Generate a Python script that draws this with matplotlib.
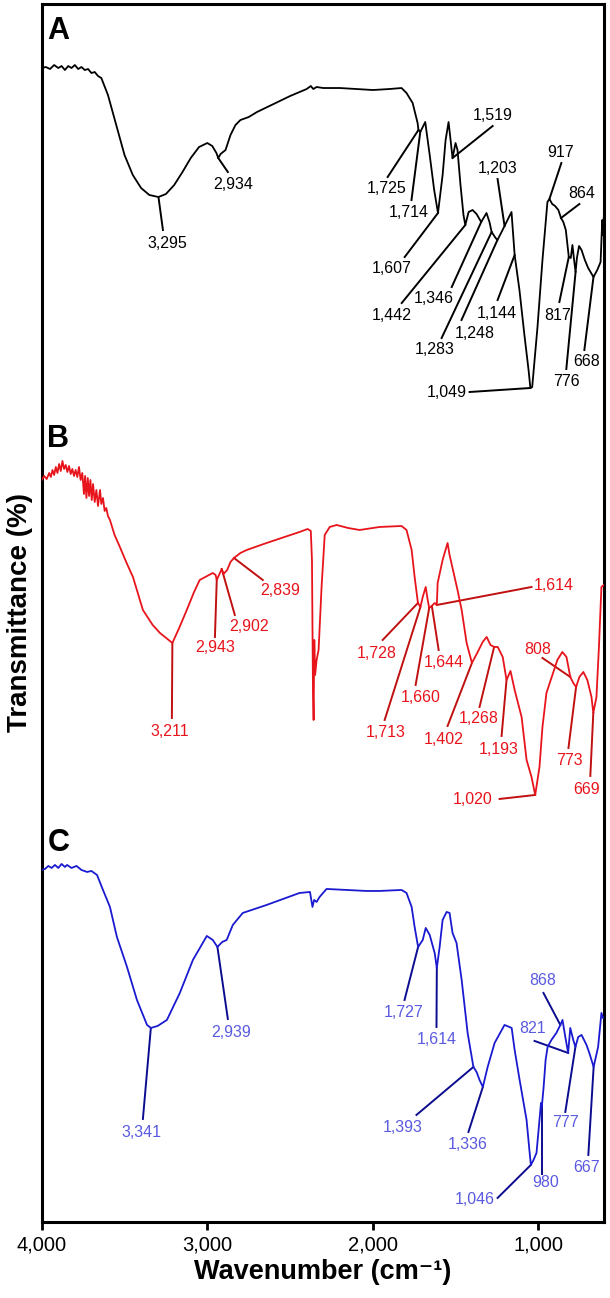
import numpy as np
import matplotlib.pyplot as plt
from matplotlib.ticker import FuncFormatter

plt.rcParams["font.family"] = ["Liberation Sans", "DejaVu Sans"]

# ---- spectrum A (black), transmittance in arbitrary units ----
a_wn = [4000, 3975, 3950, 3925, 3900, 3880, 3860, 3840, 3820, 3800, 3780, 3760, 3740, 3720,
        3700, 3680, 3660, 3640, 3600, 3550, 3500, 3450, 3400, 3350, 3295, 3250, 3200, 3150,
        3100, 3050, 3000, 2970, 2945, 2934, 2920, 2890, 2860, 2830, 2800, 2750, 2700, 2600,
        2500, 2400, 2375, 2360, 2340, 2300, 2200, 2100, 2000, 1900, 1827, 1797, 1760, 1730,
        1725, 1714, 1684, 1657, 1630, 1607, 1579, 1561, 1543, 1531, 1519, 1501, 1489, 1471,
        1453, 1442, 1422, 1398, 1374, 1346, 1314, 1296, 1283, 1259, 1248, 1223, 1205, 1181,
        1163, 1144, 1115, 1085, 1060, 1049, 1038, 1006, 976, 946, 934, 917, 900, 880, 864,
        850, 835, 817, 805, 795, 785, 776, 768, 755, 740, 720, 700, 668, 645, 625, 615, 610, 605]
a_t = [342, 343, 341, 345, 342, 344, 340, 344, 342, 345, 341, 343, 340, 341,
       337, 338, 334, 332, 315, 285, 255, 235, 222, 215, 213, 216, 225, 238,
       252, 263, 267, 264, 257, 252, 256, 260, 275, 285, 290, 293, 298, 306,
       314, 321, 324, 321, 323, 322, 322, 321, 320, 321, 322, 317, 307, 287,
       280, 278, 288, 255, 220, 197, 235, 270, 288, 270, 252, 267, 260, 225,
       195, 185, 198, 200, 196, 188, 197, 188, 178, 172, 170, 178, 184, 192,
       198, 155, 120, 75, 40, 22, 23, 83, 150, 208, 211, 206, 204, 200, 192,
       188, 180, 153, 152, 165, 150, 138, 152, 164, 160, 150, 142, 133, 140, 148, 190, 175, 195]

# ---- spectrum B (red) ----
b_wn = [4000, 3985, 3970, 3955, 3945, 3935, 3925, 3915, 3905, 3895, 3885, 3875, 3865, 3855,
        3845, 3835, 3825, 3815, 3805, 3795, 3785, 3775, 3765, 3755, 3745, 3738, 3730, 3722,
        3714, 3706, 3698, 3690, 3680, 3670, 3660, 3648, 3640, 3630, 3620, 3610, 3600, 3588,
        3560, 3528, 3490, 3449, 3389,
        3330, 3286, 3211, 3170, 3124, 3080, 3046, 2967, 2950, 2943, 2913, 2902, 2880, 2860,
        2839, 2800, 2762, 2642, 2443, 2394, 2375, 2368, 2362, 2358, 2354, 2349, 2340, 2328,
        2310, 2291, 2261, 2219, 2150, 2080, 2000, 1960, 1827, 1797, 1766, 1748, 1728, 1713,
        1699, 1681, 1669, 1660, 1644, 1627, 1614, 1609, 1579, 1549, 1537, 1507, 1489, 1464,
        1434, 1402, 1367, 1337, 1313, 1290, 1268, 1246, 1216, 1193, 1169, 1144, 1102, 1072,
        1042, 1020, 994, 976, 952, 922, 886, 856, 831, 808, 790, 773, 753, 729, 705, 680,
        669, 650, 635, 620, 605]
b_t = [336, 340, 337, 343, 339, 346, 341, 349, 343, 352, 345, 355, 347, 351,
       344, 350, 342, 347, 340, 346, 339, 349, 336, 343, 322, 340, 318, 338,
       320, 336, 316, 332, 314, 326, 310, 326, 312, 318, 305, 308, 300, 296,
       281, 269, 254, 239, 206,
       191, 183, 173, 188, 206, 224, 236, 243, 241, 236, 247, 242, 246, 254,
       258, 263, 266, 273, 284, 287, 285, 256, 126, 96, 176, 141, 156, 166,
       229, 281, 289, 291, 288, 286, 288, 289, 290, 286, 266, 239, 213, 209,
       219, 229, 216, 208, 210, 213, 211, 233, 256, 273, 261, 239, 226, 206,
       173, 153, 164, 174, 179, 171, 169, 169, 159, 136, 145, 126, 99, 56,
       39, 21, 49, 89, 123, 138, 156, 164, 159, 139, 133, 129, 139, 144, 136, 119,
       103, 119, 169, 229, 231]

# ---- spectrum C (blue) ----
c_wn = [4000, 3980, 3960, 3940, 3920, 3900, 3880, 3860, 3847, 3820, 3790, 3760, 3726, 3700,
        3666, 3630, 3588, 3546, 3485, 3425, 3364, 3341, 3300, 3244, 3166, 3087, 3003, 2967,
        2939, 2910, 2883, 2846, 2786, 2642, 2443, 2380, 2365, 2355, 2340, 2322, 2280, 2039,
        1960, 1827, 1797, 1766, 1748, 1727, 1699, 1681, 1657, 1627, 1614, 1597, 1579, 1555,
        1537, 1519, 1495, 1464, 1428, 1393, 1374, 1356, 1336, 1307, 1265, 1205, 1162, 1144,
        1114, 1072, 1055, 1046, 1030, 1012, 994, 985, 980, 969, 957, 945, 922, 892, 868,
        855, 838, 821, 808, 790, 777, 760, 740, 710, 693, 667, 640, 620, 610]
c_t = [352, 353, 356, 354, 357, 354, 358, 355, 357, 354, 356, 352, 350, 351,
       347, 332, 315, 285, 255, 222, 197, 194, 196, 202, 229, 262, 286, 282,
       275, 280, 282, 297, 309, 317, 329, 330, 315, 322, 320, 325, 333, 331,
       331, 332, 329, 315, 295, 275, 282, 294, 287, 269, 254, 275, 302, 310,
       309, 289, 279, 242, 189, 155, 150, 142, 135, 155, 179, 197, 194, 172,
       142, 102, 72, 57, 62, 69, 102, 119, 115, 135, 162, 175, 182, 189, 197,
       202, 185, 169, 194, 182, 175, 185, 187, 177, 169, 155, 175, 209, 204]

# vertical stacking of the three spectra
offsets = {"A": 812, "B": 406, "C": 0}
colors = {"A": "black", "B": "#e8141c", "C": "#1a1ad0"}
label_colors = {"A": "black", "B": "#e8141c", "C": "#5a5ae0"}
leader_colors = {"A": "black", "B": "#c01010", "C": "#0c0c90"}

# peak labels: (text, peak wavenumber, leader end wn, leader end y, text wn, text y)
peaks_a = [
    ("3,295", 3295, 3268, 992, 3244, 979),
    ("2,934", 2934, 2876, 1050, 2846, 1038),
    ("1,725", 1725, 1911, 1045, 1917, 1034),
    ("1,714", 1714, 1767, 1022, 1785, 1010),
    ("1,607", 1607, 1808, 965, 1887, 954),
    ("1,442", 1442, 1826, 919, 1887, 907),
    ("1,346", 1346, 1524, 935, 1633, 924),
    ("1,283", 1283, 1585, 884, 1627, 872),
    ("1,248", 1248, 1465, 902, 1386, 889),
    ("1,144", 1144, 1247, 922, 1253, 909),
    ("1,203", 1205, 1247, 1043, 1247, 1054),
    ("1,519", 1519, 1277, 1096, 1277, 1107),
    ("917", 934, 862, 1059, 868, 1070),
    ("864", 864, 753, 1018, 741, 1029),
    ("817", 817, 874, 920, 886, 907),
    ("776", 776, 832, 853, 832, 840),
    ("668", 668, 723, 872, 711, 860),
    ("1,049", 1049, 1416, 830, 1555, 829),
]
peaks_b = [
    ("3,211", 3211, 3214, 504, 3225, 490),
    ("2,943", 2943, 2954, 585, 2954, 574),
    ("2,902", 2913, 2834, 607, 2749, 595),
    ("2,839", 2839, 2665, 642, 2562, 631),
    ("1,728", 1728, 1941, 582, 1977, 568),
    ("1,713", 1713, 1929, 502, 1923, 489),
    ("1,660", 1660, 1742, 537, 1712, 524),
    ("1,644", 1644, 1603, 572, 1573, 559),
    ("1,614", 1614, 1042, 635, 909, 636),
    ("1,402", 1402, 1549, 496, 1573, 482),
    ("1,268", 1268, 1356, 515, 1362, 503),
    ("1,193", 1193, 1223, 486, 1241, 472),
    ("1,020", 1020, 1235, 423, 1398, 422),
    ("808", 808, 976, 564, 1006, 572),
    ("773", 773, 819, 474, 813, 461),
    ("669", 669, 687, 446, 711, 432),
]
peaks_c = [
    ("3,341", 3341, 3389, 103, 3395, 89),
    ("2,939", 2939, 2876, 203, 2858, 189),
    ("1,727", 1727, 1809, 222, 1815, 209),
    ("1,614", 1614, 1616, 195, 1616, 182),
    ("1,393", 1393, 1737, 107, 1821, 94),
    ("1,336", 1336, 1423, 90, 1429, 77),
    ("868", 868, 970, 229, 976, 241),
    ("821", 821, 1024, 181, 1036, 193),
    ("777", 777, 838, 110, 838, 99),
    ("667", 667, 699, 67, 711, 54),
    ("980", 980, 980, 48, 958, 39),
    ("1,046", 1046, 1247, 24, 1386, 22),
]

spectra = {"A": (a_wn, a_t, peaks_a), "B": (b_wn, b_t, peaks_b), "C": (c_wn, c_t, peaks_c)}
letter_y = {"A": 1206, "B": 798, "C": 394}

fig = plt.figure(figsize=(6.1, 12.98), dpi=100)
ax = fig.add_axes([0.0684, 0.0586, 0.9216, 0.9383])

for key, (wn, t, peaks) in spectra.items():
    wn = np.array(wn)
    t = np.array(t) + offsets[key]
    ax.plot(wn, t, color=colors[key], lw=1.3, zorder=3)

    for text, pk, ex, ey, tx, ty in peaks:
        py = np.interp(pk, wn[::-1], t[::-1])
        ax.plot([pk, ex], [py, ey], color=leader_colors[key], lw=1.4, zorder=2)
        ax.text(tx, ty, text, color=label_colors[key], fontsize=11.5,
                ha="center", va="center", zorder=4)

    ax.text(3966, letter_y[key], key, fontsize=22, fontweight="bold",
            ha="left", va="top")

ax.set_xlim(4000, 605)
ax.set_ylim(0, 1218)
ax.set_xticks([4000, 3000, 2000, 1000])
ax.xaxis.set_major_formatter(FuncFormatter(lambda v, p: f"{int(v):,}"))
ax.set_yticks([])
ax.tick_params(axis="x", direction="out", length=6, width=2, labelsize=14.5, pad=4)

for sp in ax.spines.values():
    sp.set_linewidth(2.2)

ax.set_xlabel("Wavenumber (cm\u207b\u00b9)", fontsize=19.5, fontweight="bold", labelpad=3)
ax.set_ylabel("Transmittance (%)", fontsize=20, fontweight="bold", labelpad=6)

fig.savefig("out.png", dpi=100)
